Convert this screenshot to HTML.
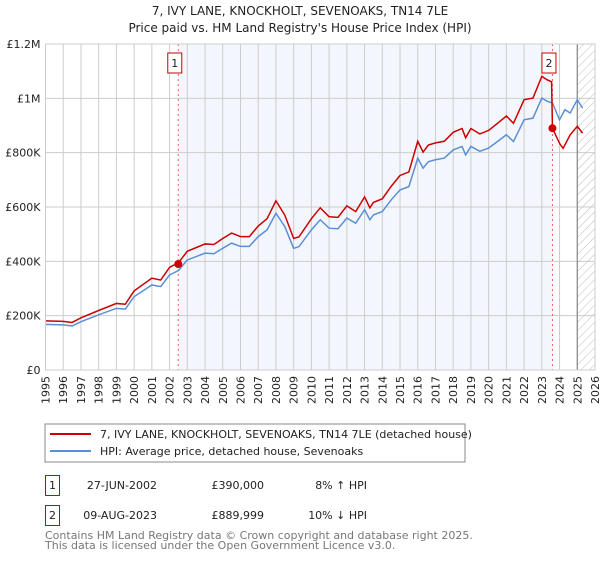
<!DOCTYPE html>
<html><head><meta charset="utf-8"><style>
body{margin:0;background:#fff;font-family:"DejaVu Sans","Liberation Sans",sans-serif;}
svg text{font-family:"DejaVu Sans","Liberation Sans",sans-serif;}
</style></head><body>
<svg id="chart" width="600" height="560" viewBox="0 0 600 560" xmlns="http://www.w3.org/2000/svg">
<defs><pattern id="hatch" width="6" height="6" patternUnits="userSpaceOnUse" patternTransform="rotate(45)"><line x1="0" y1="0" x2="0" y2="6" stroke="#bbb" stroke-width="1"/></pattern></defs>
<text x="300" y="15" text-anchor="middle" font-size="12" fill="#222">7, IVY LANE, KNOCKHOLT, SEVENOAKS, TN14 7LE</text>
<text x="300" y="32" text-anchor="middle" font-size="12" fill="#222">Price paid vs. HM Land Registry's House Price Index (HPI)</text>
<g id="plot"></g>
<rect x="45" y="424" width="420" height="38" fill="#fff" stroke="#888"/>
<line x1="50" y1="434" x2="91" y2="434" stroke="#c00" stroke-width="2"/>
<text x="100" y="438" font-size="11" fill="#222">7, IVY LANE, KNOCKHOLT, SEVENOAKS, TN14 7LE (detached house)</text>
<line x1="50" y1="451" x2="91" y2="451" stroke="#5b8fd4" stroke-width="2"/>
<text x="100" y="455" font-size="11" fill="#222">HPI: Average price, detached house, Sevenoaks</text>
<g font-size="11" fill="#222">
<rect x="45.5" y="475.5" width="14" height="20" fill="#fff" stroke="#c00"/>
<text x="52.5" y="489" text-anchor="middle">1</text>
<text x="157" y="489" text-anchor="end">27-JUN-2002</text>
<text x="264" y="489" text-anchor="end">£390,000</text>
<text x="367" y="489" text-anchor="end">8% ↑ HPI</text>
<rect x="45.5" y="505.5" width="14" height="20" fill="#fff" stroke="#c00"/>
<text x="52.5" y="519" text-anchor="middle">2</text>
<text x="157" y="519" text-anchor="end">09-AUG-2023</text>
<text x="264" y="519" text-anchor="end">£889,999</text>
<text x="367" y="519" text-anchor="end">10% ↓ HPI</text>
</g>
<text x="45" y="539" font-size="11" fill="#777">Contains HM Land Registry data © Crown copyright and database right 2025.</text>
<text x="45" y="549" font-size="11" fill="#777">This data is licensed under the Open Government Licence v3.0.</text>
</svg>
<script>
const hpiDates=[1995,1996,1996.5,1997,1998,1999,1999.5,2000,2001,2001.5,2002,2002.5,2003,2004,2004.5,2005,2005.5,2006,2006.5,2007,2007.5,2008,2008.5,2009,2009.3,2010,2010.5,2011,2011.5,2012,2012.5,2013,2013.3,2013.5,2014,2014.5,2015,2015.5,2016,2016.3,2016.6,2017,2017.5,2018,2018.5,2018.7,2019,2019.5,2020,2020.5,2021,2021.4,2022,2022.5,2023,2023.3,2023.6,2024,2024.3,2024.6,2025,2025.3];
const hpiValues=[168,166,162,178,203,227,224,270,313,307,350,366,405,430,428,448,467,455,455,491,516,577,528,448,454,516,553,522,520,559,540,590,553,571,583,626,663,675,780,743,767,774,780,810,823,792,823,805,817,841,866,841,921,927,1001,989,983,921,958,946,995,964];
const priceDates=[1995,1996,1996.5,1997,1998,1999,1999.5,2000,2001,2001.5,2002,2002.5,2003,2004,2004.5,2005,2005.5,2006,2006.5,2007,2007.5,2008,2008.5,2009,2009.3,2010,2010.5,2011,2011.5,2012,2012.5,2013,2013.3,2013.5,2014,2014.5,2015,2015.5,2016,2016.3,2016.6,2017,2017.5,2018,2018.5,2018.7,2019,2019.5,2020,2020.5,2021,2021.4,2022,2022.5,2023,2023.3,2023.55,2023.6,2024,2024.2,2024.6,2025,2025.3];
const priceValues=[181,179,175,192,219,245,242,291,338,331,378,395,437,464,462,484,504,491,491,530,557,623,570,484,490,557,597,564,562,604,583,637,597,617,630,676,716,729,842,802,828,836,842,875,889,855,889,869,882,908,935,908,995,1001,1081,1068,1061,890,834,816,866,897,872];
const saleDates=[2002.49,2023.6];
const salePrices=[390,890];
const saleLabels=["1","2"];
const yTicks=[0,200,400,600,800,1000,1200];
const yTickLabels=["£0","£200K","£400K","£600K","£800K","£1M","£1.2M"];
const years=[];for(let y=1995;y<=2026;y++)years.push(y);

const X0=45.5,X1=595,Y0=370,Y1=44;
const xs=d=>X0+(d-1995)/(2026-1995)*(X1-X0);
const ys=v=>Y0-v/1200*(Y0-Y1);
const NS="http://www.w3.org/2000/svg";
const g=document.getElementById('plot');
function mk(t,a){const e=document.createElementNS(NS,t);for(const k in a)e.setAttribute(k,a[k]);g.appendChild(e);return e;}

let r=mk('rect',{x:X0,y:Y1,width:X1-X0,height:Y0-Y1,fill:'#fff'});


r=mk('rect',{x:xs(saleDates[0]),y:Y1,width:xs(saleDates[1])-xs(saleDates[0]),height:Y0-Y1,fill:'#eef3fc',opacity:0.7});


years.forEach(y=>{
  const x=xs(y);
  const l=mk('line',{x1:x,x2:x,y1:Y1,y2:Y0,stroke:'#ccc','stroke-width':1});
  
  
  const t=mk('text',{x:0,y:0,'font-size':11,fill:'#222','text-anchor':'end',transform:`translate(${x+4},${Y0+6}) rotate(-90)`});
  t.textContent=y;
  
  
});
yTicks.forEach((v,i)=>{
  const y=ys(v);
  const l=mk('line',{x1:X0,x2:X1,y1:y,y2:y,stroke:'#ccc','stroke-width':1});
  
  
  const t=mk('text',{x:X0-5,y:y+4,'font-size':11,fill:'#222','text-anchor':'end'});
  t.textContent=yTickLabels[i];
  
  
});
r=mk('rect',{x:xs(2025),y:Y1,width:X1-xs(2025),height:Y0-Y1,fill:'url(#hatch)',stroke:'none'});


let fl=mk('line',{x1:xs(2025),x2:xs(2025),y1:Y1,y2:Y0,stroke:'#888','stroke-width':1.2});


saleDates.forEach((d,i)=>{
  const x=xs(d);
  const l=mk('line',{x1:x,x2:x,y1:Y1,y2:Y0,stroke:'#f06060','stroke-dasharray':'2,3','stroke-width':1});
  
  
  const b=mk('rect',{x:x-10.5,y:53,width:14,height:20,fill:'#fff',stroke:'#c00'});
  
  
  const t=mk('text',{x:x-3.5,y:67,'font-size':11,fill:'#222','text-anchor':'middle'});
  t.textContent=saleLabels[i];
  
  
});
let p=mk('polyline',{points:hpiDates.map((d,i)=>xs(d)+','+ys(hpiValues[i])).join(' '),fill:'none',stroke:'#5b8fd4','stroke-width':1.5});


p=mk('polyline',{points:priceDates.map((d,i)=>xs(d)+','+ys(priceValues[i])).join(' '),fill:'none',stroke:'#c00','stroke-width':1.5});


saleDates.forEach((d,i)=>{
  const c=mk('circle',{cx:xs(d),cy:ys(salePrices[i]),r:4,fill:'#c00'});
  
  
});
r=mk('rect',{x:X0,y:Y1,width:X1-X0,height:Y0-Y1,fill:'none',stroke:'#ccc'});


</script>
</body></html>
